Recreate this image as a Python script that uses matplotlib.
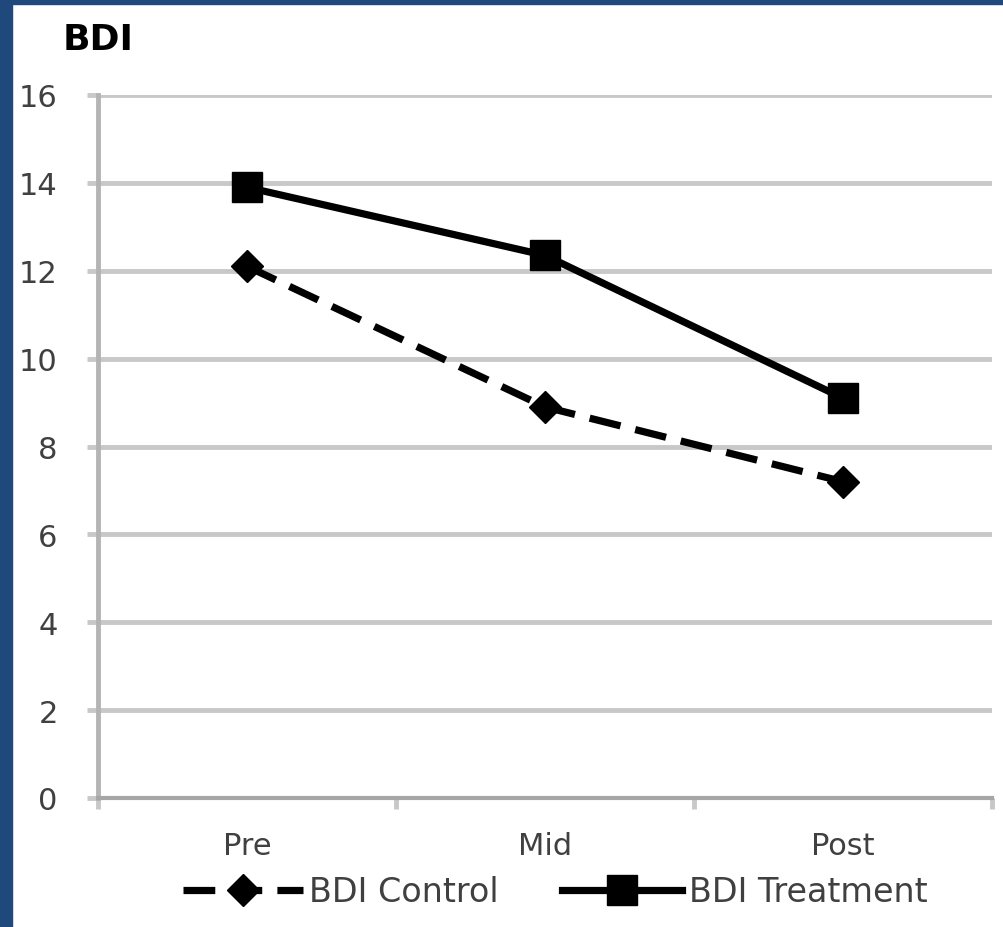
import numpy as np
import matplotlib.pyplot as plt
from matplotlib.patches import Rectangle

phases = ["Pre", "Mid", "Post"]
bdi_control = [12.1, 8.9, 7.2]
bdi_treatment = [13.9, 12.35, 9.1]
y_ticks = [0, 2, 4, 6, 8, 10, 12, 14, 16]

border = "#1F497D"
grid_grey = "#C8C8C8"
text_grey = "#404040"

plt.rcParams['font.family'] = ['DejaVu Sans']

W, H = 1004, 928
fig = plt.figure(figsize=(W / 100, H / 100), dpi=100)

# dark blue frame on the left and top edges
fig.patches.append(Rectangle((0, 0), 12 / W, 1, transform=fig.transFigure,
                             color=border, zorder=0))
fig.patches.append(Rectangle((0, 1 - 5 / H), 1, 5 / H, transform=fig.transFigure,
                             color=border, zorder=0))

ax = fig.add_axes([98 / W, 1 - 799 / H, (992 - 98) / W, (799 - 96) / H])
x = np.arange(len(phases))

ax.plot(x, bdi_control, color='black', lw=5.2, ls=(0, (4.4, 2.1)),
        marker='D', ms=16, label='BDI Control', zorder=3)
ax.plot(x, bdi_treatment, color='black', lw=5.2, marker='s', ms=22,
        label='BDI Treatment', zorder=3)

ax.set_xlim(-0.5, 2.5)
ax.set_ylim(0, 16)
ax.set_yticks(y_ticks)
ax.set_xticks(x, phases)
ax.set_xticks([-0.5, 0.5, 1.5, 2.5], minor=True)

ax.yaxis.grid(True, color=grid_grey, lw=3.5)
ax.set_axisbelow(True)

ax.tick_params(axis='y', direction='out', length=8, width=3.5, color=grid_grey,
               labelsize=22, labelcolor=text_grey, pad=21)
ax.tick_params(axis='x', which='major', length=0, labelsize=22,
               labelcolor=text_grey, pad=24)
ax.tick_params(axis='x', which='minor', direction='out', length=8, width=3.5,
               color=grid_grey)

for side in ['top', 'right']:
    ax.spines[side].set_visible(False)
ax.spines['left'].set_color('#B4B4B4')
ax.spines['left'].set_linewidth(3.5)
ax.spines['bottom'].set_color('#A6A6A6')
ax.spines['bottom'].set_linewidth(3)

fig.text(63 / W, 1 - 40 / H, 'BDI', fontsize=26, fontweight='bold',
         ha='left', va='center', color='black')

fig.legend(loc='center', bbox_to_anchor=(555 / W, 1 - 893 / H), ncol=2,
           frameon=False, fontsize=24, labelcolor=text_grey,
           handlelength=3.6, handletextpad=0.2, columnspacing=1.9)

fig.savefig('out.png', dpi=100, facecolor='white')
